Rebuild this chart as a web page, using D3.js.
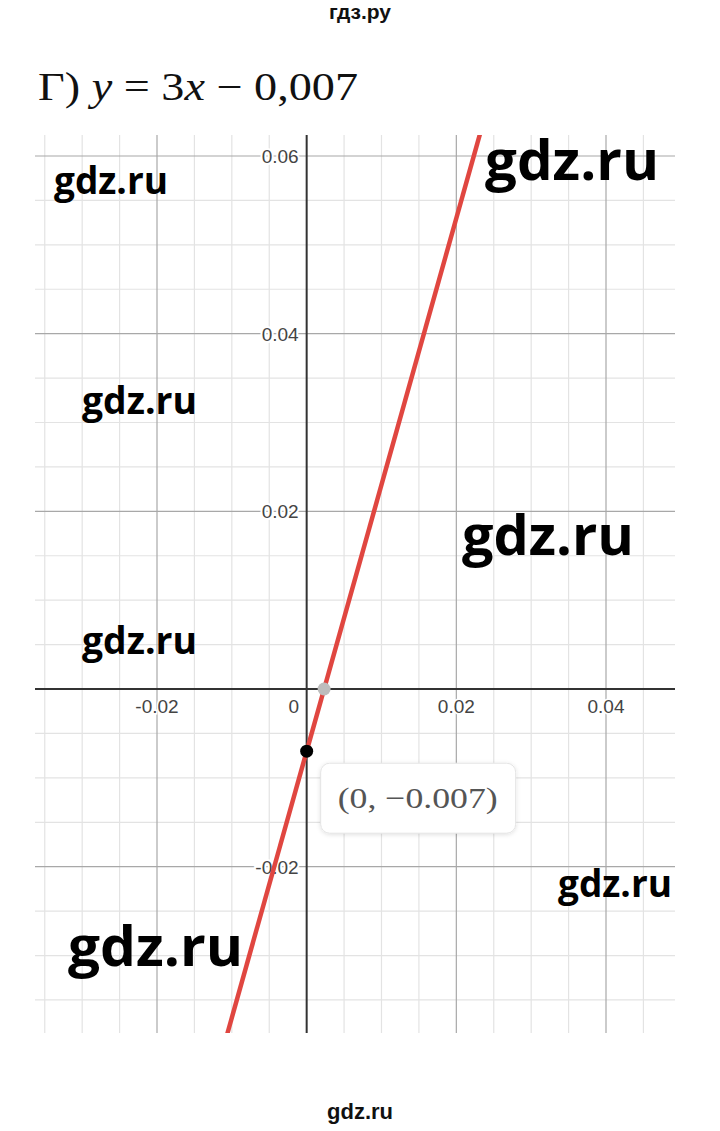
<!DOCTYPE html>
<html><head><meta charset="utf-8">
<script src="https://cdn.jsdelivr.net/npm/d3@7"></script>
<style>body{margin:0;background:#fff}</style></head>
<body>
<svg id="c" width="720" height="1131"></svg>
<script>
// ---- data ----
const xTicks = [-0.02, 0, 0.02, 0.04];
const xTickLabels = ["-0.02", "0", "0.02", "0.04"];
const yTicks = [0.06, 0.04, 0.02, -0.02];
const yTickLabels = ["0.06", "0.04", "0.02", "-0.02"];
const lineSlope = 3;
const lineIntercept = -0.007;
const lineXs = [-0.012, 0.025];
const pointXs = [0, 0.00233];
const pointYs = [-0.007, 0];
const pointColors = ["#000000", "#bdbdbd"];
const pointLabel = "(0, −0.007)";
const minorStep = 0.005;

// ---- layout ----
const svg = d3.select("#c");
const W = 720, H = 1131;
const plot = {left: 35, right: 675, top: 135, bottom: 1033};

const x = d3.scaleLinear().domain([-0.02, 0.04]).range([157, 606]);
const y = d3.scaleLinear().domain([-0.02, 0.06]).range([866.7, 156]);

const xmin = x.invert(plot.left), xmax = x.invert(plot.right);
const ymin = y.invert(plot.bottom), ymax = y.invert(plot.top);

svg.append("rect").attr("width", W).attr("height", H).attr("fill", "#fff");

// header
svg.append("text").attr("x", 360).attr("y", 19).attr("text-anchor", "middle")
  .attr("font-family", "Liberation Sans, Arial, sans-serif").attr("font-weight", "bold")
  .attr("font-size", 21).attr("fill", "#111").text("гдз.ру");

// title
const title = svg.append("text").attr("x", 38).attr("y", 100)
  .attr("font-family", "Liberation Serif, DejaVu Serif, serif").attr("font-size", 40).attr("fill", "#111")
  .attr("textLength", 320).attr("lengthAdjust", "spacingAndGlyphs");
title.append("tspan").text("Г) ");
title.append("tspan").attr("font-style", "italic").text("y");
title.append("tspan").text(" = 3");
title.append("tspan").attr("font-style", "italic").text("x");
title.append("tspan").text(" − 0,007");

const defs = svg.append("defs");
defs.append("clipPath").attr("id", "clip").append("rect")
  .attr("x", plot.left).attr("y", plot.top)
  .attr("width", plot.right - plot.left).attr("height", plot.bottom - plot.top);
const sh = defs.append("filter").attr("id", "sh").attr("x", "-20%").attr("y", "-20%").attr("width", "140%").attr("height", "150%");
sh.append("feDropShadow").attr("dx", 0).attr("dy", 1).attr("stdDeviation", 2).attr("flood-color", "#000").attr("flood-opacity", 0.12);

const g = svg.append("g").attr("clip-path", "url(#clip)");

// grid
const xs = d3.range(Math.ceil(xmin / minorStep), Math.floor(xmax / minorStep) + 1).map(i => i);
const ys = d3.range(Math.ceil(ymin / minorStep), Math.floor(ymax / minorStep) + 1).map(i => i);
const isMajor = i => i % 4 === 0;

g.selectAll(".vminor").data(xs.filter(i => !isMajor(i))).join("line")
  .attr("x1", i => x(i * minorStep)).attr("x2", i => x(i * minorStep))
  .attr("y1", plot.top).attr("y2", plot.bottom)
  .attr("stroke", "#e3e3e3").attr("stroke-width", 1.2);
g.selectAll(".hminor").data(ys.filter(i => !isMajor(i))).join("line")
  .attr("y1", i => y(i * minorStep)).attr("y2", i => y(i * minorStep))
  .attr("x1", plot.left).attr("x2", plot.right)
  .attr("stroke", "#e3e3e3").attr("stroke-width", 1.2);
g.selectAll(".vmajor").data(xs.filter(i => isMajor(i) && i !== 0)).join("line")
  .attr("x1", i => x(i * minorStep)).attr("x2", i => x(i * minorStep))
  .attr("y1", plot.top).attr("y2", plot.bottom)
  .attr("stroke", "#a8a8a8").attr("stroke-width", 1.2);
g.selectAll(".hmajor").data(ys.filter(i => isMajor(i) && i !== 0)).join("line")
  .attr("y1", i => y(i * minorStep)).attr("y2", i => y(i * minorStep))
  .attr("x1", plot.left).attr("x2", plot.right)
  .attr("stroke", "#a8a8a8").attr("stroke-width", 1.2);

// axes
g.append("line").attr("x1", plot.left).attr("x2", plot.right).attr("y1", y(0)).attr("y2", y(0))
  .attr("stroke", "#333").attr("stroke-width", 2);
g.append("line").attr("x1", x(0)).attr("x2", x(0)).attr("y1", plot.top).attr("y2", plot.bottom)
  .attr("stroke", "#333").attr("stroke-width", 2);

// tick labels
const lblFont = "Liberation Sans, Arial, sans-serif";
g.selectAll(".ylbl").data(yTicks).join("text")
  .attr("x", x(0) - 8).attr("y", d => y(d) + 7).attr("text-anchor", "end")
  .attr("font-family", lblFont).attr("font-size", 19).attr("fill", "#444")
  .attr("stroke", "#fff").attr("stroke-width", 4).attr("paint-order", "stroke")
  .text((d, i) => yTickLabels[i]);
g.selectAll(".xlbl").data(xTicks).join("text")
  .attr("x", d => d === 0 ? x(0) - 13 : x(d)).attr("y", y(0) + 24).attr("text-anchor", "middle")
  .attr("font-family", lblFont).attr("font-size", 19).attr("fill", "#444")
  .attr("stroke", "#fff").attr("stroke-width", 3).attr("paint-order", "stroke")
  .text((d, i) => xTickLabels[i]);

// function line
const lineData = lineXs.map(v => [v, lineSlope * v + lineIntercept]);
g.append("path").datum(lineData)
  .attr("d", d3.line().x(d => x(d[0])).y(d => y(d[1])))
  .attr("stroke", "#e04640").attr("stroke-width", 4.5).attr("fill", "none");

// points
g.selectAll(".pt").data(pointXs).join("circle")
  .attr("cx", d => x(d)).attr("cy", (d, i) => y(pointYs[i])).attr("r", 6.5)
  .attr("fill", (d, i) => pointColors[i]);

// tooltip label
const tx = x(pointXs[0]) + 14, ty = y(pointYs[0]) + 12;
svg.append("rect").attr("x", tx).attr("y", ty).attr("width", 195).attr("height", 70).attr("rx", 9)
  .attr("fill", "#fff").attr("stroke", "#e4e4e4").attr("stroke-width", 1).attr("filter", "url(#sh)");
svg.append("text").attr("x", tx + 17).attr("y", ty + 45)
  .attr("font-family", "Liberation Serif, DejaVu Serif, serif").attr("font-size", 30).attr("fill", "#555")
  .attr("textLength", 160).attr("lengthAdjust", "spacingAndGlyphs").text(pointLabel);

// watermarks
const wm = (tx, by, w, fs) => svg.append("text").attr("x", tx).attr("y", by)
  .attr("font-family", "Open Sans, DejaVu Sans, sans-serif").attr("font-weight", 700)
  .attr("font-size", fs).attr("fill", "#000")
  .attr("textLength", w).attr("lengthAdjust", "spacingAndGlyphs").text("gdz.ru");
wm(54, 194, 114, 38);
wm(485, 180, 174, 56);
wm(82, 414, 115, 38);
wm(462, 555, 172, 56);
wm(82, 654, 115, 38);
wm(558, 897, 114, 38);
wm(68, 966, 175, 56);
svg.append("text").attr("x", 360).attr("y", 1119).attr("text-anchor", "middle")
  .attr("font-family", "Liberation Sans, Arial, sans-serif").attr("font-weight", "bold")
  .attr("font-size", 22).attr("fill", "#111").text("gdz.ru");
</script>
</body></html>
